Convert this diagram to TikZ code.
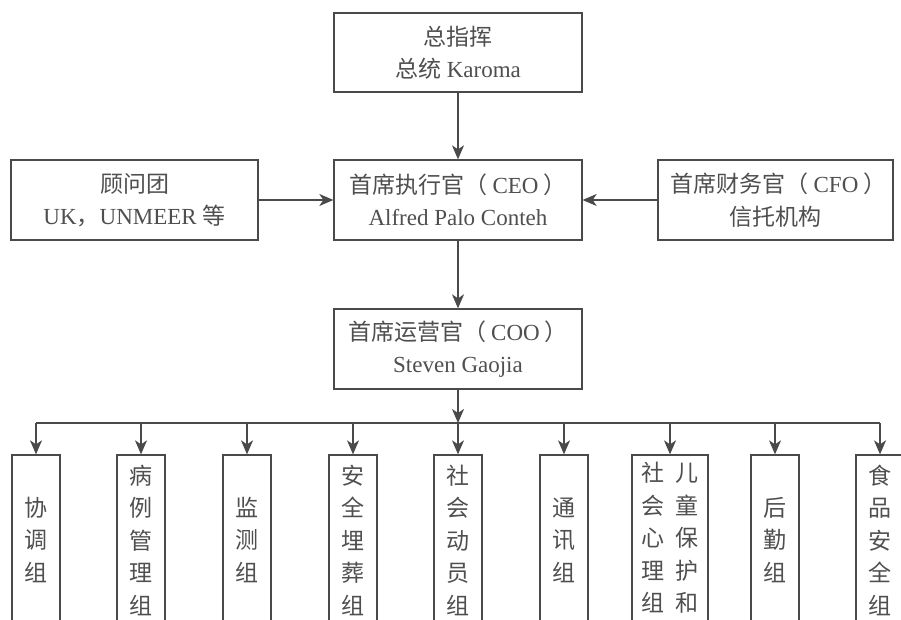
\documentclass[tikz,border=0pt]{standalone}
\usepackage{fontspec}
\setmainfont{Liberation Serif}
\newfontfamily\cjk{Noto Sans CJK SC}
\usetikzlibrary{arrows.meta}
\definecolor{ink}{HTML}{4A4A4A}
\definecolor{txt}{HTML}{4F4F4F}
\begin{document}
\begin{tikzpicture}[x=1pt,y=-1pt,
  box/.style={draw=ink, line width=1.3pt, text=txt, align=center, inner sep=0pt,
    font=\fontsize{23}{32.5}\selectfont},
  wide/.style={box, minimum width=248pt, minimum height=80pt},
  grp/.style={box, minimum width=48pt, minimum height=170pt},
  arr/.style={draw=ink, line width=1.3pt, -{Stealth[length=14pt,width=12pt,inset=4pt]}},
  bar/.style={draw=ink, line width=1.3pt}]
\useasboundingbox (0,0) rectangle (901,620);
\clip (0,0) rectangle (901,620);
\fill[white] (0,0) rectangle (901,620);

\node[wide, minimum height=79pt] (top) at (458,52.5) {{\cjk 总指挥}\\{\cjk 总统} Karoma};
\node[wide] (ceo) at (458,200) {{\cjk 首席执行官（}\hspace{5pt}CEO\hspace{5pt}{\cjk ）}\\Alfred Palo Conteh};
\node[box, minimum width=247pt, minimum height=80pt] (adv) at (134.5,200) {{\cjk 顾问团}\\UK{\cjk ，}UNMEER {\cjk 等}};
\node[box, minimum width=235pt, minimum height=80pt] (cfo) at (775.5,200) {\hspace{6pt}{\cjk 首席财务官（}\hspace{5pt}CFO\hspace{5pt}{\cjk ）}\\{\cjk 信托机构}};
\node[wide] (coo) at (458,349) {{\cjk 首席运营官（}\hspace{5pt}COO\hspace{5pt}{\cjk ）}\\Steven Gaojia};

\node[grp] (g1) at (36,540)  {\cjk 协\\\cjk 调\\\cjk 组};
\node[grp] (g2) at (141,540) {\cjk 病\\\cjk 例\\\cjk 管\\\cjk 理\\\cjk 组};
\node[grp] (g3) at (247,540) {\cjk 监\\\cjk 测\\\cjk 组};
\node[grp] (g4) at (353,540) {\cjk 安\\\cjk 全\\\cjk 埋\\\cjk 葬\\\cjk 组};
\node[grp] (g5) at (458,540) {\cjk 社\\\cjk 会\\\cjk 动\\\cjk 员\\\cjk 组};
\node[grp] (g6) at (564,540) {\cjk 通\\\cjk 讯\\\cjk 组};
\node[grp, minimum width=76pt] (g7) at (670,540) {\cjk\begin{tabular}{@{}c@{\hspace{11pt}}c@{}}社&儿\\会&童\\心&保\\理&护\\组&和\end{tabular}};
\node[grp] (g8) at (775,540) {\cjk 后\\\cjk 勤\\\cjk 组};
\node[grp] (g9) at (880,540) {\cjk 食\\\cjk 品\\\cjk 安\\\cjk 全\\\cjk 组};

\foreach \i/\x in {1/36,2/141,3/247,4/353,5/458,6/564,7/670,8/775,9/880}
  \coordinate (b\i) at (\x,423);

\draw[arr] (top) -- (ceo);
\draw[arr] (adv) -- (ceo);
\draw[arr] (cfo) -- (ceo);
\draw[arr] (ceo) -- (coo);
\draw[arr] (coo) -- (b5);
\draw[bar] (b1) -- (b9);
\foreach \i in {1,...,9}
  \draw[arr] (b\i) -- (g\i);
\end{tikzpicture}
\end{document}
